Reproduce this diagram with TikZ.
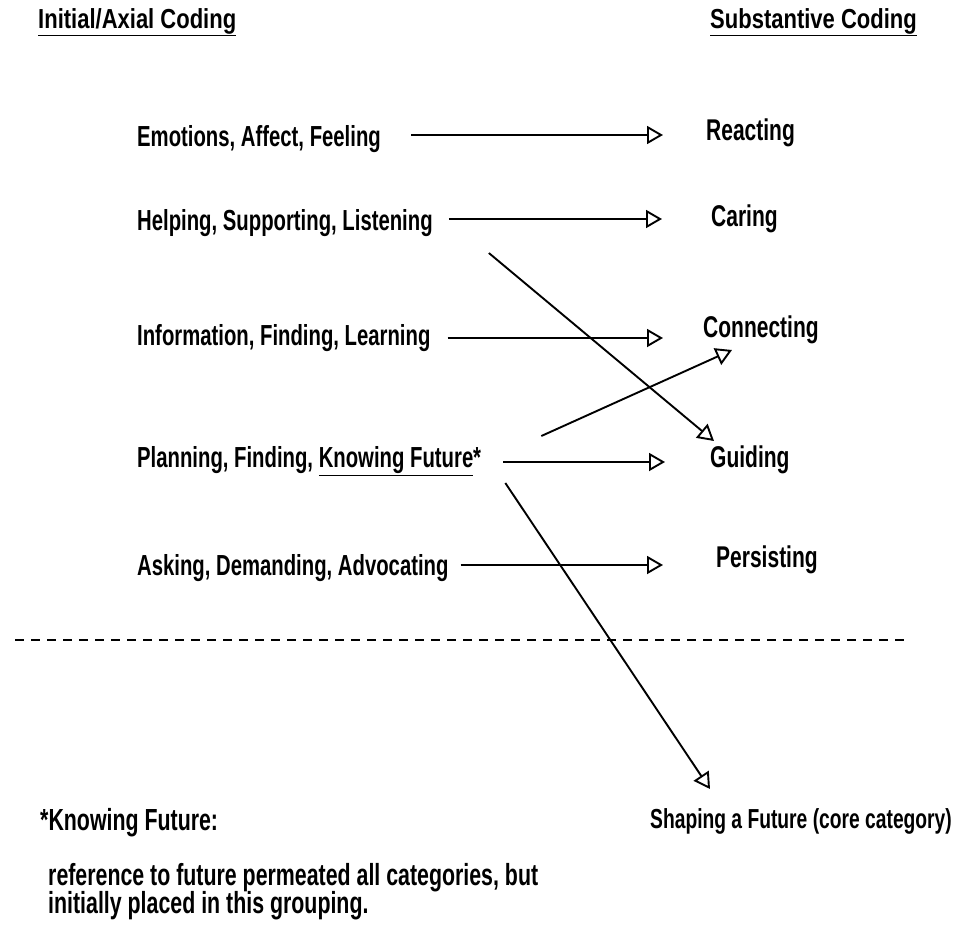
\documentclass[tikz,border=0pt]{standalone}
\usepackage{fontspec}
\setmainfont{Liberation Sans}[FakeStretch=0.70]
\newfontfamily\hdrfont{Liberation Sans}[FakeStretch=0.80]
\usetikzlibrary{arrows.meta}
\begin{document}
\begin{tikzpicture}[x=1pt,y=-1pt,
  lbl/.style={anchor=west, inner sep=0pt, font=\bfseries\fontsize{29}{33}\selectfont},
  rlbl/.style={anchor=west, inner sep=0pt, font=\bfseries\fontsize{30}{34}\selectfont},
  corel/.style={anchor=west, inner sep=0pt, font=\bfseries\fontsize{27.5}{31}\selectfont},
  foot/.style={anchor=west, inner sep=0pt, font=\bfseries\fontsize{30.5}{34}\selectfont},
  hdr/.style={anchor=west, inner sep=0pt, font=\hdrfont\bfseries\fontsize{27.5}{31}\selectfont},
  conn/.style={line width=1.9pt, -{Triangle[open,length=16pt,width=18pt,line width=1.9pt]}},
  sep/.style={line width=1.1pt, dash pattern=on 9pt off 7pt},
]
\useasboundingbox (0,0) rectangle (955,950);
% headers
\node[hdr] (hl) at (38,22) {\underline{Initial/Axial Coding}};
\node[hdr] (hr) at (710,22) {\underline{Substantive Coding}};
% left column
\node[lbl] (e1) at (137,139) {Emotions, Affect, Feeling};
\node[lbl] (e2) at (137,223) {Helping, Supporting, Listening};
\node[lbl] (e3) at (137,338) {Information, Finding, Learning};
\node[lbl] (e4) at (137,461) {Planning, Finding, \underline{Knowing Future}*};
\node[lbl] (e5) at (137,568) {Asking, Demanding, Advocating};
% right column
\node[rlbl] (r1) at (706,133) {Reacting};
\node[rlbl] (r2) at (711,219) {Caring};
\node[rlbl] (r3) at (703,330) {Connecting};
\node[rlbl] (r4) at (710,460) {Guiding};
\node[rlbl] (r5) at (716,560) {Persisting};
\node[corel] (core) at (650,821) {Shaping a Future (core category)};
% footnote
\node[foot] (f1) at (40,823) {*Knowing Future:};
\node[foot] (f2) at (48,878) {reference to future permeated all categories, but};
\node[foot] (f3) at (48,906) {initially placed in this grouping.};
% horizontal connectors
\draw[conn] ([xshift=30pt,yshift=4pt]e1.east) -- ([xshift=-43pt,yshift=4pt]r1.west |- e1.east);
\draw[conn] ([xshift=16pt,yshift=4pt]e2.east) -- ([xshift=-49pt,yshift=4pt]r2.west |- e2.east);
\draw[conn] ([xshift=17pt]e3.east) -- ([xshift=-40pt]r3.west |- e3.east);
\draw[conn] ([xshift=22pt,yshift=-1pt]e4.east) -- ([xshift=-45pt,yshift=-1pt]r4.west |- e4.east);
\draw[conn] ([xshift=12pt,yshift=3pt]e5.east) -- ([xshift=-53pt,yshift=3pt]r5.west |- e5.east);
% diagonal connectors
\draw[conn] ([xshift=56pt,yshift=-30pt]e2.east) -- ([xshift=4pt,yshift=19pt]r4.west);
\draw[conn] ([xshift=60pt,yshift=25pt]e4.east) -- ([xshift=29pt,yshift=-20pt]r3.west);
\draw[conn] ([xshift=24pt,yshift=-22pt]e4.east) -- ([xshift=60pt,yshift=32pt]core.west);
% separator
\coordinate (sa) at (15,640);
\coordinate (sb) at (905,640);
\draw[sep] (sa) -- (sb);
\end{tikzpicture}
\end{document}
